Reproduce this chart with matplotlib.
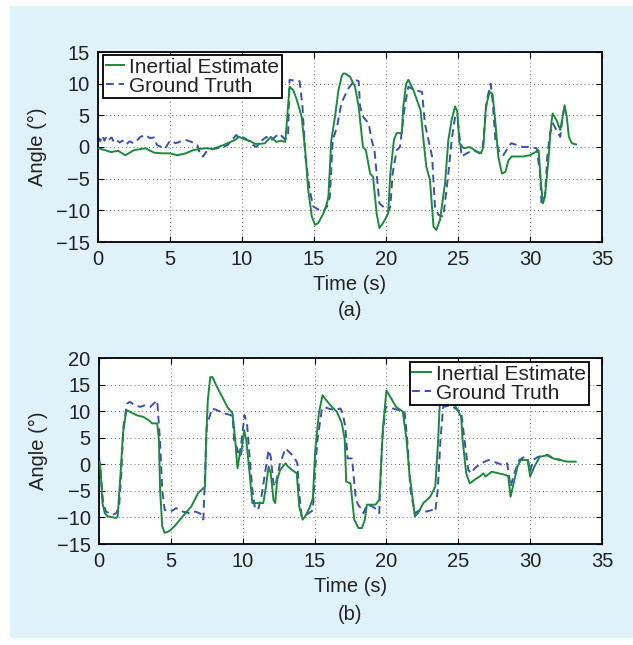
import matplotlib.pyplot as plt

# -----------------------------
# Data
# -----------------------------
# (a) inertial estimate
A_EST_T = [0.0, 0.5, 0.9, 1.4, 1.9, 2.5, 3.3, 3.9, 4.5, 5.0, 5.5, 6.1, 6.6, 7.1, 7.5, 8.0,
           8.7, 9.0, 9.5, 9.8, 10.2, 10.6, 10.9, 11.3, 11.6, 12.0, 12.4, 12.7, 13.0, 13.1,
           13.3, 13.56, 13.8, 14.14, 14.4, 14.6, 14.85, 15.07, 15.3, 15.65, 15.9, 16.0,
           16.2, 16.47, 16.7, 16.93, 17.04, 17.16, 17.5, 17.85, 18.1, 18.4, 18.6, 18.9, 19.1,
           19.35, 19.54, 19.8, 20.15, 20.3, 20.55, 20.74, 21.1, 21.2, 21.4, 21.55, 21.9,
           22.4, 22.6, 22.8, 23.05, 23.3, 23.5, 23.75, 24.1, 24.33, 24.56, 24.8, 24.95,
           25.1, 25.4, 25.8, 26.3, 26.6, 26.76, 26.94, 27.2, 27.4, 27.6, 27.8, 28.05, 28.3,
           28.5, 28.73, 29.5, 30.0, 30.46, 30.6, 30.74, 30.9, 31.04, 31.3, 31.43, 31.57,
           31.85, 32.1, 32.27, 32.4, 32.55, 32.7, 32.9, 33.2]
A_EST_Y = [-0.2, -0.5, -0.8, -0.6, -1.3, -0.5, -0.2, -0.9, -1.0, -1.0, -1.3, -1.0, -0.5,
           -0.3, -0.2, -0.3, 0.3, 0.6, 1.1, 1.6, 1.2, 0.9, 0.5, 0.5, 0.6, 1.6, 0.8, 1.0,
           0.8, 3.5, 9.5, 9.0, 7.5, 4.8, -0.8, -6.8, -11.0, -12.3, -12.0, -10.5, -8.9, -7.8,
           1.0, 5.0, 9.0, 11.2, 11.6, 11.6, 11.1, 9.5, 6.4, 0.0, -0.5, -4.2, -4.7, -10.5,
           -12.8, -12.0, -10.5, -4.2, 1.1, 2.2, 2.2, 6.4, 10.0, 10.6, 9.0, 5.8, 1.1, -3.1,
           -5.2, -12.6, -13.1, -11.5, -5.7, 1.1, 4.3, 6.4, 5.6, 0.6, -0.2, 0.0, -0.7, -1.0,
           0.0, 6.4, 8.7, 8.4, 3.7, -1.5, -4.2, -3.9, -2.1, -1.5, -1.5, -1.3, -0.7, -0.5,
           -5.2, -8.9, -7.8, -1.5, 2.7, 5.3, 4.2, 2.7, 4.8, 6.6, 4.8, 1.6, 0.6, 0.4]

# (a) ground truth
A_GT_T = [0.0, 0.15, 0.3, 0.45, 0.6, 0.75, 0.95, 1.1, 1.3, 1.5, 1.7, 1.95, 2.2, 2.45,
          2.7, 2.95, 3.3, 3.6, 3.9, 4.1, 4.4, 4.65, 5.0, 5.4, 5.75, 6.1, 6.5, 6.9, 7.1,
          7.3, 7.5, 7.8, 8.0, 8.3, 8.7, 9.0, 9.3, 9.6, 9.8, 10.1, 10.4, 10.7, 11.0, 11.3,
          11.7, 12.0, 12.3, 12.6, 12.9, 13.0, 13.2, 13.3, 13.6, 14.0, 14.2, 14.4, 14.7,
          14.95, 15.4, 15.65, 15.9, 16.1, 16.3, 16.6, 16.9, 17.1, 17.4, 17.85, 18.1, 18.2,
          18.4, 18.8, 19.0, 19.2, 19.35, 19.54, 19.8, 20.15, 20.3, 20.46, 20.74, 20.97,
          21.3, 21.55, 22.0, 22.5, 22.7, 22.9, 23.2, 23.4, 23.63, 23.98, 24.33, 24.56,
          24.8, 24.98, 25.25, 25.6, 26.07, 26.5, 26.7, 26.87, 27.0, 27.27, 27.4, 27.6,
          27.9, 28.15, 28.5, 28.7, 29.1, 29.5, 30.0, 30.46, 30.7, 30.8, 31.04, 31.2, 31.4,
          31.6, 31.85, 32.1, 32.25, 32.4]
A_GT_Y = [1.6, 0.9, 1.8, 1.0, 1.7, 1.2, 1.5, 0.8, 1.1, 0.7, 1.0, 0.4, 0.9, 0.6, 1.0, 1.6,
          1.9, 1.4, 1.5, 0.3, 0.0, -0.3, 1.0, 0.6, 0.9, 1.1, 0.8, 0.3, -1.3, -1.5, -0.8,
          -0.5, -0.3, -0.2, 0.0, 0.3, 1.1, 1.9, 1.4, 1.5, 1.1, 0.4, 0.0, 0.9, 1.6, 1.0,
          1.6, 2.1, 1.4, 1.2, 1.6, 10.6, 10.5, 10.4, 6.4, -1.5, -6.8, -9.4, -10.0, -10.2,
          -9.4, -7.9, 1.1, 3.2, 6.9, 7.9, 9.3, 10.6, 10.4, 6.4, 4.8, 3.7, 1.1, -0.5, -4.2,
          -8.9, -9.4, -10.2, -9.4, -4.2, -0.5, 0.0, 6.4, 9.5, 9.0, 8.7, 3.7, 1.6, -1.5,
          -9.4, -10.7, -11.0, -4.2, 1.1, 4.8, 4.3, -1.5, -1.0, -0.5, -1.0, -0.5, 4.0, 7.4,
          10.0, 7.4, 1.1, -1.0, -1.3, 0.0, 0.6, 0.3, 0.0, 0.0, -0.2, -4.2, -8.9, -7.8,
          -1.5, 2.2, 3.7, 2.6, 1.6, 4.5, 6.4]

# (b) inertial estimate
B_EST_T = [0.0, 0.07, 0.15, 0.24, 0.4, 0.6, 1.2, 1.3, 1.5, 1.67, 1.9, 2.14, 2.6, 3.1,
           3.45, 3.7, 4.05, 4.17, 4.25, 4.4, 4.57, 4.88, 5.24, 5.83, 6.43, 6.9, 7.26,
           7.38, 7.45, 7.57, 7.74, 7.9, 8.2, 8.57, 8.93, 9.29, 9.48, 9.57, 9.64, 9.76,
           9.9, 10.1, 10.25, 10.48, 10.67, 11.43, 11.62, 11.8, 11.95, 12.14, 12.26, 12.4,
           12.6, 12.98, 13.14, 13.45, 13.76, 13.93, 14.17, 14.35, 14.64, 14.88, 15.05,
           15.3, 15.55, 15.83, 16.2, 16.55, 16.9, 17.1, 17.2, 17.5, 17.76, 18.05, 18.3,
           18.5, 18.64, 19.24, 19.5, 19.6, 19.76, 20.0, 20.2, 20.67, 21.14, 21.4, 21.6,
           21.98, 22.2, 22.57, 23.05, 23.4, 23.6, 23.7, 23.9, 24.2, 24.5, 24.83, 25.2,
           25.3, 25.55, 25.8, 26.14, 26.5, 26.74, 26.9, 27.33, 27.8, 28.3, 28.48, 28.64,
           28.8, 29.12, 29.36, 29.83, 30.0, 30.3, 30.67, 31.26, 31.6, 32.1, 32.57, 33.17]
B_EST_Y = [0.5, 0.2, -2.9, -7.3, -9.2, -9.8, -10.1, -9.8, -1.7, 5.8, 10.2, 9.9, 9.25, 8.9,
           8.3, 7.7, 7.7, 4.6, -4.8, -11.7, -12.9, -12.6, -11.7, -9.8, -7.9, -5.4, -4.5,
           -4.2, 4.6, 12.0, 16.4, 16.4, 14.6, 12.7, 10.8, 9.6, 4.6, 1.4, -0.75, 1.4, 2.0,
           6.4, 4.5, -1.7, -7.3, -7.3, -4.2, -0.4, -1.7, -6.7, -7.3, -2.9, -1.1, 0.2, -0.4,
           -1.1, -1.7, -7.9, -10.4, -9.8, -8.25, -6.4, 2.7, 9.6, 13.0, 12.0, 10.8, 9.9,
           7.7, 4.6, -3.25, -3.6, -10.4, -12.0, -12.0, -10.4, -7.6, -7.6, -6.7, -1.7, 7.0,
           13.9, 13.0, 10.8, 9.9, 4.6, -1.7, -9.8, -9.2, -7.3, -6.1, -4.2, 4.6, 10.8,
           13.3, 15.0, 13.5, 10.8, 8.9, 4.6, -1.7, -3.6, -2.9, -2.3, -1.7, -2.3, -1.4,
           -1.7, -2.0, -2.3, -6.1, -4.2, -0.4, 0.8, 0.8, -2.3, -0.4, 1.4, 1.75, 1.1, 0.8,
           0.5, 0.5]

# (b) ground truth
B_GT_T = [0.0, 0.12, 0.29, 0.48, 0.71, 0.95, 1.2, 1.4, 1.55, 1.7, 1.95, 2.14, 2.5, 2.86,
          3.2, 3.57, 3.93, 4.05, 4.24, 4.4, 4.57, 5.0, 5.36, 5.83, 6.3, 6.7, 7.0, 7.14,
          7.26, 7.38, 7.5, 7.86, 8.2, 8.7, 9.17, 9.3, 9.4, 9.64, 9.76, 9.95, 10.12, 10.3,
          10.48, 10.67, 10.83, 11.07, 11.3, 11.55, 11.8, 11.95, 12.14, 12.26, 12.6, 12.98,
          13.2, 13.57, 13.8, 13.93, 14.1, 14.4, 14.76, 14.88, 15.05, 15.2, 15.5, 15.7,
          15.95, 16.43, 16.8, 16.95, 17.14, 17.3, 17.6, 17.86, 18.0, 18.3, 18.4, 18.64,
          19.0, 19.36, 19.5, 19.7, 19.95, 20.43, 21.26, 21.45, 21.67, 21.98, 22.33, 22.8,
          23.17, 23.4, 23.57, 23.76, 23.95, 24.48, 24.95, 25.2, 25.43, 25.7, 25.9, 26.14,
          26.6, 27.1, 27.45, 28.05, 28.4, 28.64, 28.9, 29.24, 29.6, 29.83, 30.0, 30.2,
          30.55, 31.14, 31.6, 32.2]
B_GT_Y = [1.4, -1.7, -7.3, -8.9, -9.2, -9.5, -9.2, -7.9, -1.7, 7.1, 11.4, 11.75, 11.1,
          10.8, 11.1, 10.8, 11.75, 12.0, 4.6, -4.8, -8.6, -8.9, -8.25, -8.9, -9.2, -8.9,
          -9.2, -9.5, -10.4, -1.7, 7.1, 10.5, 10.2, 9.6, 9.25, 8.9, 4.6, 2.7, 1.4, 5.0,
          9.25, 7.7, 1.4, -4.8, -7.9, -8.6, -6.1, -1.7, 2.7, 1.4, -3.6, -4.2, 0.2, 3.0,
          2.4, 1.4, 0.2, -5.4, -9.8, -9.5, -8.9, -8.6, -0.5, 4.6, 10.2, 10.8, 10.5, 10.2,
          10.5, 9.6, 7.1, 1.1, 1.1, -6.1, -7.5, -8.6, -9.2, -7.6, -7.9, -8.6, -9.2, 4.6,
          10.8, 10.5, 9.9, 4.6, -4.8, -9.2, -8.6, -8.9, -8.6, -8.9, -4.8, 4.6, 10.8, 11.1,
          10.2, 9.9, 4.6, -1.1, -1.7, -0.75, 0.2, 0.8, 0.5, -0.1, 0.2, -4.2, -1.7, 0.8,
          1.4, 1.1, -1.4, 0.8, 1.4, 1.75, 1.1, 0.8]

LABEL_EST = "Inertial Estimate"
LABEL_GT = "Ground Truth"
X_TICKS = [0, 5, 10, 15, 20, 25, 30, 35]
A_Y_TICKS = [-15, -10, -5, 0, 5, 10, 15]
B_Y_TICKS = [-15, -10, -5, 0, 5, 10, 15, 20]

# -----------------------------
# Style
# -----------------------------
GREEN = "#1a8a3c"
BLUE = "#3a50b2"
PANEL = "#dff1f9"
TEXT = "#222222"
FS = 14.5

plt.rcParams["font.family"] = ["Liberation Sans", "DejaVu Sans"]


def style_axes(ax, yticks, ylim):
    ax.set_xlim(0, 35)
    ax.set_ylim(*ylim)
    ax.set_xticks(X_TICKS)
    ax.set_yticks(yticks)
    ax.set_yticklabels([str(v).replace("-", "\u2212") for v in yticks])
    ax.tick_params(direction="in", top=True, right=True, length=4, width=0.8,
                   labelsize=FS, colors="black", labelcolor=TEXT)
    ax.tick_params(axis="x", pad=6)
    ax.tick_params(axis="y", pad=6)
    ax.grid(True, linestyle=(0, (1, 3)), color="#666666", linewidth=0.7)
    for sp in ax.spines.values():
        sp.set_linewidth(1.3)
        sp.set_color("black")
    ax.set_xlabel("Time (s)", fontsize=FS, color=TEXT, labelpad=4)
    ax.set_ylabel("Angle (\u00b0)", fontsize=FS, color=TEXT, labelpad=6)


def draw_panel(ax, t_est, y_est, t_gt, y_gt, legend_loc, anchor):
    ax.plot(t_est, y_est, color=GREEN, linewidth=1.4, label=LABEL_EST, zorder=3)
    ax.plot(t_gt, y_gt, color=BLUE, linewidth=1.4, linestyle=(0, (4, 2.5)),
            label=LABEL_GT, zorder=2)
    leg = ax.legend(loc=legend_loc, bbox_to_anchor=anchor, fontsize=15, frameon=True,
                    fancybox=False, borderpad=0.12, labelspacing=0.0,
                    handlelength=0.9, handletextpad=0.25, borderaxespad=0.0)
    leg.get_frame().set_edgecolor("black")
    leg.get_frame().set_linewidth(1.3)
    leg.get_frame().set_alpha(1)
    for txt in leg.get_texts():
        txt.set_color(TEXT)


fig = plt.figure(figsize=(6.33, 6.45), dpi=100)
fig.patch.set_facecolor("white")
fig.patches.append(plt.Rectangle((10 / 633, 7 / 645), 623 / 633, 632 / 645,
                                 transform=fig.transFigure, facecolor=PANEL,
                                 edgecolor="none", zorder=-10))

ax_a = fig.add_axes([98 / 633, 1 - 242 / 645, 504 / 633, 190 / 645])
draw_panel(ax_a, A_EST_T, A_EST_Y, A_GT_T, A_GT_Y, "upper left", (0.01, 0.984))
style_axes(ax_a, A_Y_TICKS, (-15, 15))
fig.text(350 / 633, 1 - 310 / 645, "(a)", ha="center", va="center",
         fontsize=FS, color=TEXT)

ax_b = fig.add_axes([99 / 633, 1 - 544 / 645, 503 / 633, 186 / 645])
draw_panel(ax_b, B_EST_T, B_EST_Y, B_GT_T, B_GT_Y, "upper right", (0.974, 0.978))
style_axes(ax_b, B_Y_TICKS, (-15, 20))
fig.text(350 / 633, 1 - 614 / 645, "(b)", ha="center", va="center",
         fontsize=FS, color=TEXT)

fig.savefig("out.png", dpi=100, facecolor=fig.get_facecolor())
